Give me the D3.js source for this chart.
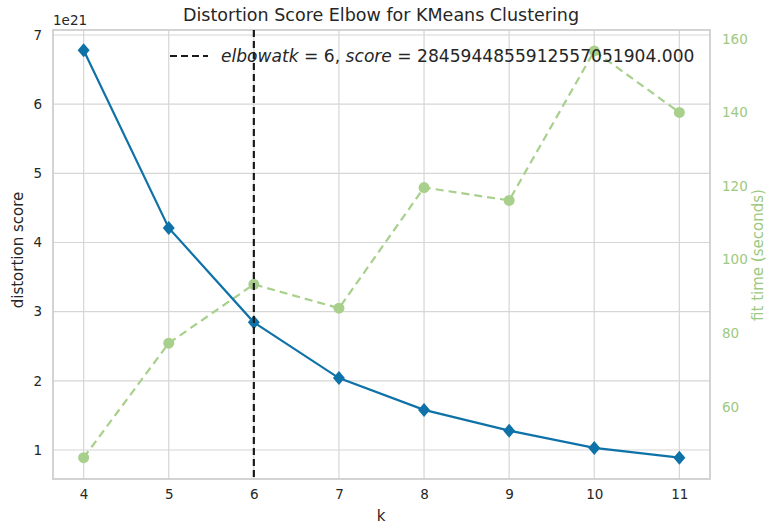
<!DOCTYPE html>
<html><head><meta charset="utf-8">
<script src="https://cdn.jsdelivr.net/npm/d3@7/dist/d3.min.js"></script>
<style>body{margin:0;background:#fff}svg{font-family:"DejaVu Sans",sans-serif}</style>
</head><body><svg id="c" width="768" height="526"></svg>
<script>
const ks = [4, 5, 6, 7, 8, 9, 10, 11];
const distortion = [6.78, 4.21, 2.846, 2.04, 1.58, 1.28, 1.03, 0.89]; // x1e21
const fitTime = [46.2, 77.3, 93.3, 86.8, 119.6, 116.1, 156.7, 140.0];
const leftTicks = [1, 2, 3, 4, 5, 6, 7];
const rightTicks = [60, 80, 100, 120, 140, 160];
const elbowK = 6;

const svg = d3.select("#c");
const L = 53, R = 710, T = 30, B = 479;
const x = d3.scaleLinear().domain([3.64, 11.36]).range([L, R]);
const y = d3.scaleLinear().domain([0.581, 7.072]).range([B, T]);
const y2 = d3.scaleLinear().domain([40.4, 162.4]).range([B, T]);
const grid = "#d6d6d6", txt = "#262626", blue = "#0e72a8", green = "#a8d08c", greenTxt = "#9dc981";

const g = svg.append("g");
g.selectAll(".gx").data(ks).join("line").attr("x1", d => x(d)).attr("x2", d => x(d))
  .attr("y1", T).attr("y2", B).attr("stroke", grid).attr("stroke-width", 1.2);
g.selectAll(".gy").data(leftTicks).join("line").attr("x1", L).attr("x2", R)
  .attr("y1", d => y(d)).attr("y2", d => y(d)).attr("stroke", grid).attr("stroke-width", 1.2);
g.append("rect").attr("x", L).attr("y", T).attr("width", R - L).attr("height", B - T)
  .attr("fill", "none").attr("stroke", "#cfcfcf").attr("stroke-width", 1.8);

const ax = d3.axisBottom(x).tickValues(ks).tickSize(0).tickPadding(10).tickFormat(d3.format("d"));
const axG = svg.append("g").attr("transform", `translate(0,${B})`).call(ax);
const ayG = svg.append("g").attr("transform", `translate(${L},0)`).call(d3.axisLeft(y).tickValues(leftTicks).tickSize(0).tickPadding(11).tickFormat(d3.format("d")));
const ay2G = svg.append("g").attr("transform", `translate(${R},0)`).call(d3.axisRight(y2).tickValues(rightTicks).tickSize(0).tickPadding(12).tickFormat(d3.format("d")));
[axG, ayG, ay2G].forEach(a => { a.select(".domain").remove(); a.selectAll("text").attr("font-size", 13.5).attr("font-family", "DejaVu Sans"); });
axG.selectAll("text").attr("fill", txt);
ayG.selectAll("text").attr("fill", txt);
ay2G.selectAll("text").attr("fill", greenTxt);

const lineT = d3.line().x((d, i) => x(ks[i])).y(d => y2(d));
svg.append("path").datum(fitTime).attr("d", lineT).attr("fill", "none")
  .attr("stroke", green).attr("stroke-width", 2.2).attr("stroke-dasharray", "8,5");
svg.selectAll(".ct").data(fitTime).join("circle").attr("cx", (d, i) => x(ks[i])).attr("cy", d => y2(d))
  .attr("r", 5.5).attr("fill", green);

const lineD = d3.line().x((d, i) => x(ks[i])).y(d => y(d));
svg.append("path").datum(distortion).attr("d", lineD).attr("fill", "none")
  .attr("stroke", blue).attr("stroke-width", 2.2);
svg.selectAll(".dm").data(distortion).join("path")
  .attr("transform", (d, i) => `translate(${x(ks[i])},${y(d)})`)
  .attr("d", "M0,-7L6,0L0,7L-6,0Z").attr("fill", blue);

svg.append("line").attr("x1", x(elbowK)).attr("x2", x(elbowK)).attr("y1", T).attr("y2", B)
  .attr("stroke", "#1a1a1a").attr("stroke-width", 2.2).attr("stroke-dasharray", "7,4");

svg.append("line").attr("x1", 170).attr("x2", 208).attr("y1", 56).attr("y2", 56)
  .attr("stroke", "#1a1a1a").attr("stroke-width", 2.2).attr("stroke-dasharray", "7,4");
const lt = svg.append("text").attr("x", 221).attr("y", 62).attr("font-size", 17.1).attr("fill", txt);
lt.append("tspan").attr("font-style", "italic").text("elbowatk");
lt.append("tspan").text(" = 6, ");
lt.append("tspan").attr("font-style", "italic").text("score");
lt.append("tspan").text(" = 2845944855912557051904.000");

svg.append("text").attr("x", 381).attr("y", 21).attr("text-anchor", "middle").attr("font-size", 17.5).attr("fill", txt)
  .text("Distortion Score Elbow for KMeans Clustering");
svg.append("text").attr("x", 53).attr("y", 25).attr("font-size", 13.5).attr("fill", txt).text("1e21");
svg.append("text").attr("transform", "translate(23,250) rotate(-90)").attr("text-anchor", "middle")
  .attr("font-size", 15).attr("fill", txt).text("distortion score");
svg.append("text").attr("x", 381).attr("y", 521).attr("text-anchor", "middle").attr("font-size", 15).attr("fill", txt).text("k");
svg.append("text").attr("transform", "translate(763,255) rotate(-90)").attr("text-anchor", "middle")
  .attr("font-size", 15).attr("fill", greenTxt).text("fit time (seconds)");
</script></body></html>
